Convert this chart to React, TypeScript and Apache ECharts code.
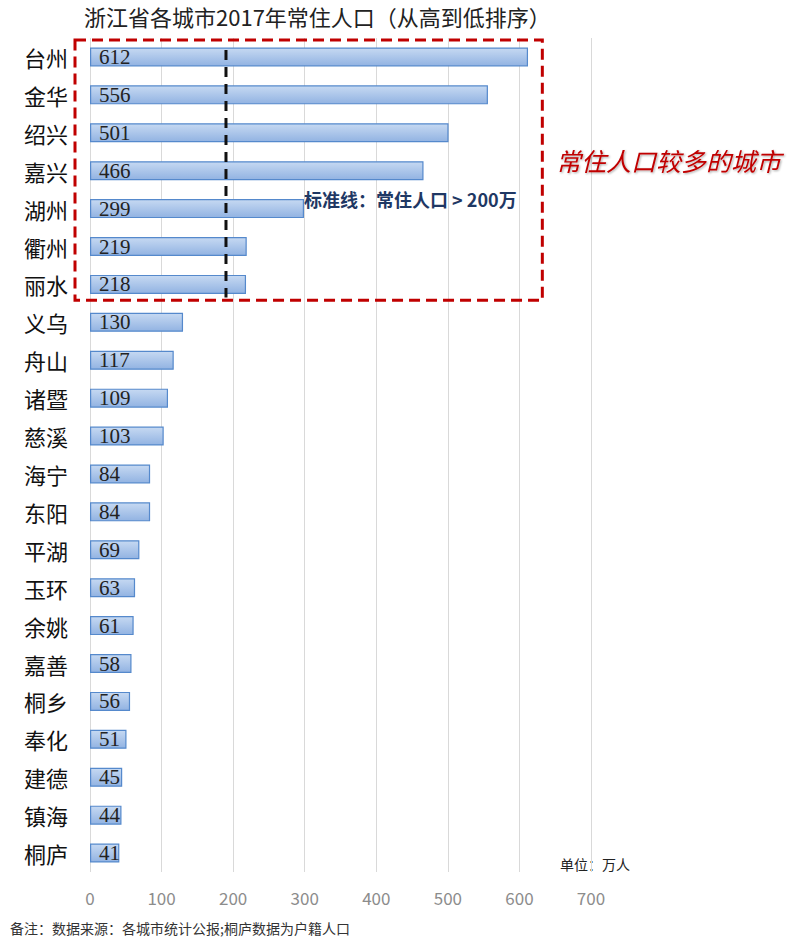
import React, { useEffect, useRef } from "react";
import * as echarts from "echarts";

const cities = ["台州", "金华", "绍兴", "嘉兴", "湖州", "衢州", "丽水", "义乌", "舟山", "诸暨", "慈溪", "海宁", "东阳", "平湖", "玉环", "余姚", "嘉善", "桐乡", "奉化", "建德", "镇海", "桐庐"];
const population = [612, 556, 501, 466, 299, 219, 218, 130, 117, 109, 103, 84, 84, 69, 63, 61, 58, 56, 51, 45, 44, 41];
const standardLine = 190;
const xTicks = [0, 700, 100];
const highlightFirst = "台州";
const highlightLast = "丽水";

const titleText = "浙江省各城市2017年常住人口（从高到低排序）";
const noteText = "备注：数据来源：各城市统计公报;桐庐数据为户籍人口";
const unitText = "单位：万人";
const standardText = "标准线：常住人口 > 200万";
const highlightText = "常住人口较多的城市";

const CJK = '"Noto Sans CJK SC", "Noto Sans", sans-serif';

export default function App() {
  const ref = useRef<HTMLDivElement>(null);
  useEffect(() => {
    if (!ref.current) return;
    const chart = echarts.init(ref.current, undefined, { renderer: "svg" });
    const baseGraphics = [
      {
        type: "text",
        left: 84,
        top: 5,
        style: { text: titleText, fill: "#222222", fontSize: 22, fontFamily: CJK },
      },
      {
        type: "text",
        left: 560,
        top: 857,
        style: { text: unitText, fill: "#222222", fontSize: 14, fontFamily: CJK },
      },
      {
        type: "text",
        left: 10,
        top: 921,
        style: { text: noteText, fill: "#333333", fontSize: 14, fontFamily: CJK },
      },
    ];
    chart.setOption({
      animation: false,
      backgroundColor: "#ffffff",
      grid: { left: 90, right: 209, top: 38, bottom: 75 },
      xAxis: {
        type: "value",
        min: xTicks[0],
        max: xTicks[1],
        interval: xTicks[2],
        axisLine: { show: false },
        axisTick: { show: false },
        axisLabel: { color: "#8c8c8c", fontSize: 17, fontFamily: CJK, margin: 17 },
        splitLine: { show: true, lineStyle: { color: "#d9d9d9", width: 1 } },
      },
      yAxis: {
        type: "category",
        data: cities,
        inverse: true,
        axisLine: { show: false },
        axisTick: { show: false },
        axisLabel: { color: "#111111", fontSize: 22, fontFamily: CJK, margin: 22 },
      },
      series: [
        {
          type: "bar",
          data: population,
          barWidth: 19,
          itemStyle: {
            color: new echarts.graphic.LinearGradient(0, 0, 0, 1, [
              { offset: 0, color: "#c6d9f2" },
              { offset: 1, color: "#92b3e2" },
            ]),
            borderColor: "#5589cc",
            borderWidth: 1.2,
          },
          label: {
            show: true,
            position: "insideLeft",
            distance: 9,
            color: "#222222",
            fontSize: 21,
            fontFamily: '"Liberation Serif", "DejaVu Serif", serif',
            formatter: (p: any) => String(p.value),
          },
        },
      ],
      graphic: baseGraphics,
    });

    const x0 = chart.convertToPixel({ xAxisIndex: 0 }, 0) as number;
    const xStd = chart.convertToPixel({ xAxisIndex: 0 }, standardLine) as number;
    const xRight = chart.convertToPixel({ xAxisIndex: 0 }, 632) as number;
    const yFirst = chart.convertToPixel({ yAxisIndex: 0 }, highlightFirst) as number;
    const yLast = chart.convertToPixel({ yAxisIndex: 0 }, highlightLast) as number;
    const band = (yLast - yFirst) / 6;

    chart.setOption({
      graphic: [
        ...baseGraphics,
        {
          type: "rect",
          shape: {
            x: x0 - 15,
            y: yFirst - band / 2 + 2,
            width: xRight - (x0 - 15),
            height: yLast - yFirst + band - 5,
          },
          style: { fill: "none", stroke: "#c00000", lineWidth: 3, lineDash: [11, 6] },
          z: 10,
        },
        {
          type: "line",
          shape: { x1: xStd, y1: yFirst - 7, x2: xStd, y2: yLast + 13 },
          style: { stroke: "#111111", lineWidth: 3, lineDash: [10, 7] },
          z: 10,
        },
        {
          type: "text",
          left: 304,
          top: yFirst + band * 3.5,
          style: { text: standardText, fill: "#1f3864", fontSize: 18, fontWeight: "bold", fontFamily: CJK },
          z: 11,
        },
        {
          type: "text",
          left: 556,
          top: yFirst + band * 2.4,
          style: {
            text: highlightText,
            fill: "#c00000",
            fontSize: 25,
            fontStyle: "italic",
            fontFamily: CJK,
            textShadowColor: "rgba(0,0,0,0.35)",
            textShadowBlur: 2,
            textShadowOffsetX: 1,
            textShadowOffsetY: 1,
          },
          z: 11,
        },
      ],
    });

    return () => chart.dispose();
  }, []);
  return (
    <div
      ref={ref}
      style={{ position: "absolute", left: 0, top: 0, width: 800, height: 947, background: "#fff" }}
    />
  );
}
